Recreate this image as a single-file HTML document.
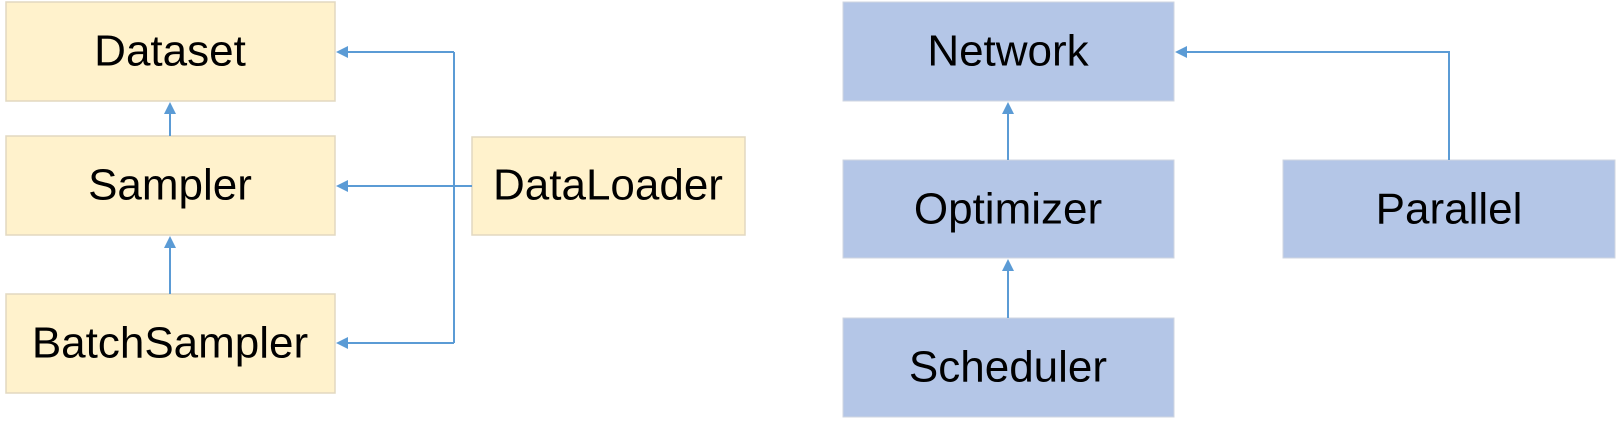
<!DOCTYPE html>
<html><head><meta charset="utf-8"><style>
html,body{margin:0;padding:0;background:#fff;width:1617px;height:425px;overflow:hidden}
text{font-family:"Liberation Sans",sans-serif;font-size:44px;fill:#000;text-anchor:middle;dominant-baseline:central}
.y{fill:#FFF2CC;stroke:#e2d8c0;stroke-width:1.5}
.b{fill:#B4C6E7;stroke:#cfd6e2;stroke-width:1}
.l{stroke:#5B9BD5;stroke-width:2;fill:none}
.a{fill:#5B9BD5}
</style></head><body>
<svg width="1617" height="425" viewBox="0 0 1617 425" xmlns="http://www.w3.org/2000/svg">
<rect class="y" x="6" y="2" width="329" height="99"/>
<rect class="y" x="6" y="136" width="329" height="99"/>
<rect class="y" x="6" y="294" width="329" height="99"/>
<rect class="y" x="472" y="137" width="273" height="98"/>
<text x="170" y="51">Dataset</text>
<text x="170" y="185">Sampler</text>
<text x="170" y="343">BatchSampler</text>
<text x="608" y="185">DataLoader</text>
<path class="l" d="M170 136V112M170 294V246M472 186H345M454 52V343M454 52H345M454 343H345"/>
<path class="a" d="M170 102l-6 12h12zM170 236l-6 12h12zM336 52l12-6v12zM336 186l12-6v12zM336 343l12-6v12z"/>
<rect class="b" x="843" y="2" width="331" height="99"/>
<rect class="b" x="843" y="160" width="331" height="98"/>
<rect class="b" x="843" y="318" width="331" height="99"/>
<rect class="b" x="1283" y="160" width="332" height="98"/>
<text x="1008" y="51">Network</text>
<text x="1008" y="209">Optimizer</text>
<text x="1008" y="367">Scheduler</text>
<text x="1449" y="209">Parallel</text>
<path class="l" d="M1008 160V112M1008 318V270M1449 160V52H1186"/>
<path class="a" d="M1008 102l-6 12h12zM1008 259l-6 12h12zM1175 52l12-6v12z"/>
</svg>
</body></html>
